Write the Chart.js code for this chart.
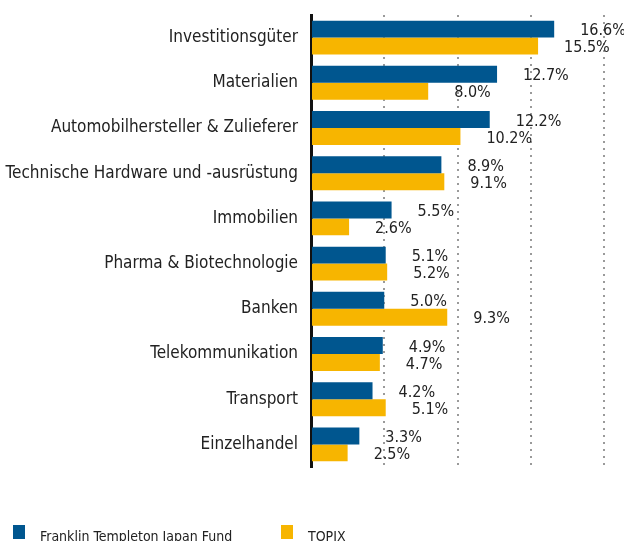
<!DOCTYPE html>
<html>
<head>
<meta charset="utf-8">
<script src="https://cdn.jsdelivr.net/npm/chart.js@4/dist/chart.umd.min.js"></script>
<style>
  html, body { margin: 0; padding: 0; background: #fff; overflow: hidden; }
  #wrap { position: relative; width: 624px; height: 541px; }
  #legend { position: absolute; left: 13px; top: 524px; font: 14px 'Liberation Sans Narrow', 'DejaVu Sans Condensed', sans-serif; color: #222; }
  .item { position: absolute; top: 0; white-space: nowrap; }
  .box { position: absolute; top: 1px; width: 12px; height: 14px; }
  .txt { position: absolute; left: 27px; top: 4px; }
</style>
</head>
<body>
<div id="wrap">
  <canvas id="myChart" width="624" height="541"></canvas>
  <div id="legend"></div>
</div>
<script>
var kategorien = ["Investitionsgüter", "Materialien", "Automobilhersteller & Zulieferer",
    "Technische Hardware und -ausrüstung", "Immobilien", "Pharma & Biotechnologie",
    "Banken", "Telekommunikation", "Transport", "Einzelhandel"];
var fondsWerte = [16.6, 12.7, 12.2, 8.9, 5.5, 5.1, 5.0, 4.9, 4.2, 3.3];
var topixWerte = [15.5, 8.0, 10.2, 9.1, 2.6, 5.2, 9.3, 4.7, 5.1, 2.5];
var serien = ["Franklin Templeton Japan Fund", "TOPIX"];
var achsenTicks = [0, 5, 10, 15, 20];

var schrift = "'Liberation Sans Narrow', 'DejaVu Sans Condensed', sans-serif";

// Werte rechts neben die Balken schreiben
var wertLabels = {
    id: 'wertLabels',
    afterDatasetsDraw: function (chart) {
        var ctx = chart.ctx;
        ctx.save();
        ctx.font = "16px " + schrift;
        ctx.fillStyle = "#222";
        ctx.textAlign = "left";
        ctx.textBaseline = "middle";
        chart.data.datasets.forEach(function (ds, i) {
            chart.getDatasetMeta(i).data.forEach(function (bar, j) {
                ctx.fillText(ds.data[j].toFixed(1) + "%", bar.x + 26, bar.y + 2);
            });
        });
        ctx.restore();
    }
};

var ctx = document.getElementById("myChart").getContext("2d");
var dados = {
    type: 'bar',
    data: {
        labels: kategorien,
        datasets: [
            { label: serien[0], data: fondsWerte, backgroundColor: "#00568F",
              categoryPercentage: 0.75, barPercentage: 1.0 },
            { label: serien[1], data: topixWerte, backgroundColor: "#F7B500",
              categoryPercentage: 0.75, barPercentage: 1.0 }
        ]
    },
    options: {
        indexAxis: 'y',
        responsive: false,
        animation: { duration: 0 },
        layout: { padding: { top: 15, bottom: 74, right: 20, left: 0 } },
        plugins: {
            legend: { display: false },
            tooltip: { enabled: false }
        },
        scales: {
            x: {
                min: achsenTicks[0],
                max: achsenTicks[achsenTicks.length - 1],
                afterBuildTicks: function (s) {
                    s.ticks = achsenTicks.map(function (v) { return { value: v }; });
                },
                ticks: { display: false },
                grid: {
                    drawTicks: false,
                    lineWidth: 2,
                    color: function (c) { return c.index === 0 ? 'rgba(0,0,0,0)' : '#9a9a9a'; }
                },
                border: { display: false, dash: [2, 5] }
            },
            y: {
                afterFit: function (s) { s.width = 311; },
                ticks: {
                    padding: 0,
                    color: "#222",
                    font: { family: schrift, size: 17 }
                },
                grid: {
                    drawOnChartArea: false,
                    drawTicks: true,
                    tickLength: 13,
                    tickColor: 'rgba(0,0,0,0)'
                },
                border: { display: true, color: "#111", width: 3 }
            }
        }
    },
    plugins: [wertLabels]
};
var myChart = new Chart(ctx, dados);

// Legende
var legende = document.getElementById("legend");
var xPos = [0, 268];
myChart.data.datasets.forEach(function (ds, i) {
    var item = document.createElement("div");
    item.className = "item";
    item.style.left = xPos[i] + "px";
    item.innerHTML = '<span class="box" style="background:' + ds.backgroundColor + '"></span>' +
        '<span class="txt">' + ds.label + '</span>';
    legende.appendChild(item);
});
</script>
</body>
</html>
